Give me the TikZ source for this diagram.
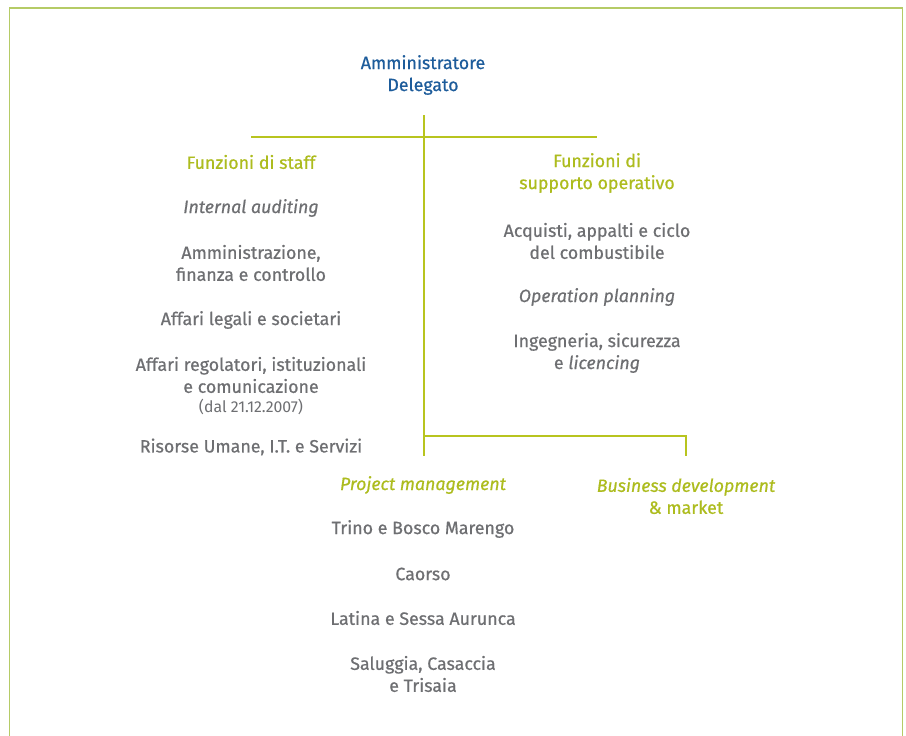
\documentclass[tikz,border=0pt]{standalone}
\usepackage{fontspec}
\setmainfont{Fira Sans}[FakeBold=0.6,ItalicFeatures={FakeBold=0.6}]
\newfontfamily\lightfont{Fira Sans}
\definecolor{tblue}{HTML}{1D5C9B}
\definecolor{tgreen}{HTML}{ADBC1E}
\definecolor{tgray}{HTML}{6E6F72}
\definecolor{lgreen}{HTML}{B8C41F}
\definecolor{fgreen}{HTML}{B5CB66}
\begin{document}
\begin{tikzpicture}[x=1pt,y=-1pt,
  every node/.style={inner sep=0pt,align=center,font=\fontsize{17.8}{22}\selectfont},
  head/.style={text=tgreen},
  item/.style={text=tgray},
  conn/.style={draw=lgreen,line width=2pt}]
\clip (0,0) rectangle (906,736);
\fill[white] (0,0) rectangle (906,736);
\draw[fgreen,line width=1.6pt] (9.5,8) rectangle (902.5,760);
% nodes
\node[text=tblue] (ad) at (423,75) {Amministratore\\Delegato};
\node[head] (staff) at (251,162) {Funzioni di staff};
\node[item] (ia) at (251,208) {\itshape Internal auditing};
\node[item] (afc) at (251,263) {Amministrazione,\\finanza e controllo};
\node[item] (als) at (251,320) {Affari legali e societari};
\node[item] (ari) at (251,375) {Affari regolatori, istituzionali\\e comunicazione};
\node[item,font=\lightfont\fontsize{15.8}{16}\selectfont] (dal) at (251,407) {(dal 21.12.2007)};
\node[item] (rus) at (251,447) {Risorse Umane, I.T. e Servizi};
\node[head] (supp) at (597,173) {Funzioni di\\supporto operativo};
\node[item] (acq) at (597,241) {Acquisti, appalti e ciclo\\del combustibile};
\node[item] (op) at (597,297) {\itshape Operation planning};
\node[item] (ing) at (597,353) {Ingegneria, sicurezza\\e \textit{licencing}};
\node[head] (pm) at (423,485) {\itshape Project management};
\node[head] (bd) at (686,496) {\textit{Business development}\\\& market};
\node[item] (tbm) at (423,529) {Trino e Bosco Marengo};
\node[item] (cao) at (423,574) {Caorso};
\node[item] (lsa) at (423,618) {Latina e Sessa Aurunca};
\node[item] (sct) at (423,674) {Saluggia, Casaccia\\e Trisaia};
% connectors
\coordinate (vtop) at (424,115);
\coordinate (vbot) at (424,456);
\coordinate (hl) at (251,137);
\coordinate (hr) at (597,137);
\coordinate (bj) at (424,436);
\coordinate (br) at (686,436);
\coordinate (bd0) at (686,456);
\draw[conn] (vtop) -- (vbot);
\draw[conn] (hl) -- (hr);
\draw[conn] (bj) -- (br) -- (bd0);
\end{tikzpicture}
\end{document}
